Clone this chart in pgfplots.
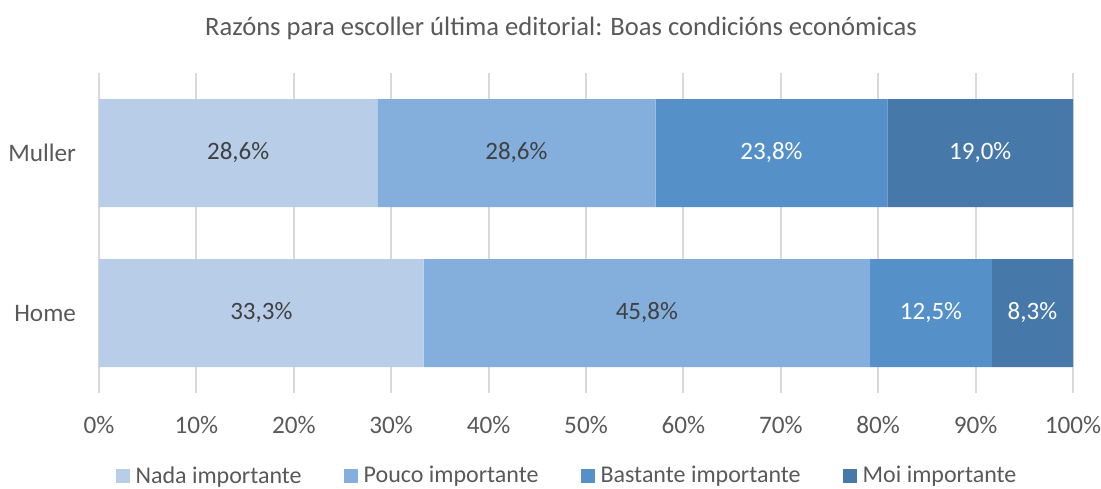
\documentclass[border=0pt]{standalone}
\usepackage{pgfplots}
\pgfplotsset{compat=1.18}
\usepackage{fontspec}
\setmainfont{Carlito}
\definecolor{cNada}{HTML}{B8CDE8}
\definecolor{cPouco}{HTML}{84AEDC}
\definecolor{cBast}{HTML}{5591C8}
\definecolor{cMoi}{HTML}{4679A9}
\definecolor{gridc}{HTML}{D9D9D9}
\definecolor{labc}{HTML}{595959}
\definecolor{darktext}{HTML}{404040}
\begin{document}
\begin{tikzpicture}
\path[use as bounding box] (-49.5pt,-47.5pt) rectangle (501pt,196.5pt);
\begin{axis}[
  at={(0pt,0pt)}, anchor=south west,
  scale only axis, width=487pt, height=160pt,
  xbar stacked, bar width=0.675,
  xmin=0, xmax=100, ymin=-0.5, ymax=1.5,
  xtick={0,10,...,100},
  xticklabel={\pgfmathprintnumber{\tick}\%},
  ytick={0,1}, yticklabels={Home,Muller},
  xmajorgrids, grid style={color=gridc, line width=1pt},
  axis line style={draw=none}, major tick length=0pt,
  tick label style={font=\fontsize{12.6}{15}\selectfont, text=labc},
  /pgf/number format/assume math mode=true,
  xticklabel style={yshift=-8pt},
  yticklabel style={xshift=-8pt},
  visualization depends on={rawx \as \rawx},
  nodes near coords={\pgfmathprintnumber[fixed,fixed zerofill,precision=1,use comma]{\rawx}\%},
  every node near coord/.append style={anchor=center, font=\fontsize{12.5}{15}\selectfont, text=darktext},
  legend columns=4,
  legend style={at={(0.4815,-0.26)}, anchor=center, draw=none, fill=none,
    font=\fontsize{12}{14}\selectfont, text=labc,
    /tikz/every even column/.append style={column sep=19pt},
    /tikz/every odd column/.append style={column sep=1pt}},
  legend image code/.code={\fill[#1] (0pt,-3.5pt) rectangle (7pt,3.5pt);},
  clip=false,
]
\addplot[fill=cNada, draw=none] coordinates {(33.333,0) (28.571,1)};
\addplot[fill=cPouco, draw=none] coordinates {(45.833,0) (28.571,1)};
\addplot[fill=cBast, draw=none, every node near coord/.append style={text=white}] coordinates {(12.5,0) (23.810,1)};
\addplot[fill=cMoi, draw=none, every node near coord/.append style={text=white}] coordinates {(8.333,0) (19.048,1)};
\legend{Nada importante, Pouco importante, Bastante importante, Moi importante}
\end{axis}
\node[text=labc, font=\fontsize{13.3}{16}\selectfont] at (231pt,182.5pt) {Razóns para escoller última editorial: Boas condicións económicas};
\end{tikzpicture}
\end{document}
